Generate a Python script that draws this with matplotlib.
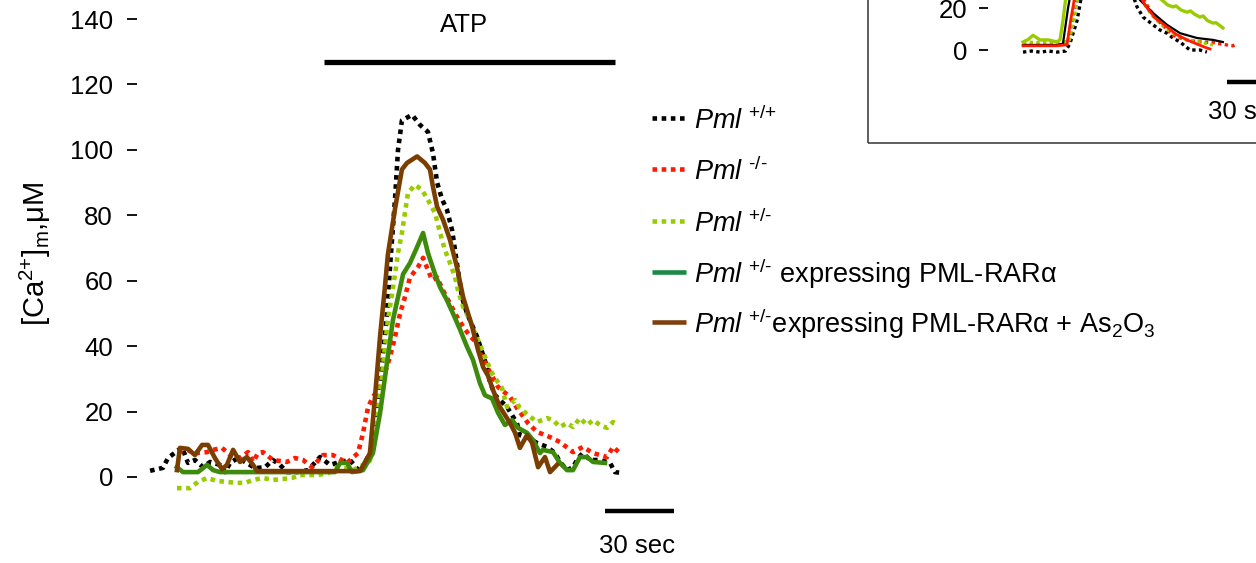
import matplotlib
matplotlib.use("Agg")
import matplotlib.pyplot as plt
from matplotlib.lines import Line2D
from matplotlib.patches import Rectangle

plt.rcParams['font.family'] = ['Liberation Sans', 'DejaVu Sans']
plt.rcParams['mathtext.fontset'] = 'custom'
plt.rcParams['mathtext.rm'] = 'Liberation Sans'
plt.rcParams['mathtext.it'] = 'Liberation Sans:italic'
plt.rcParams['mathtext.bf'] = 'Liberation Sans:bold'

# ---------------- main panel data (time in s, [Ca2+]m in uM) ----------------
wt_t = [0.9, 6.5, 8.7, 14.8, 17.4, 20.4, 23.9, 27.0, 31.3, 33.5, 35.7, 39.1, 43.0, 46.5, 50.9,
        54.3, 57.4, 60.4, 64.8, 69.6, 74.8, 79.1, 83.5, 87.8, 92.2, 96.5, 99.6, 101.7, 103.9, 105.2,
        107.4, 108.7, 110.4, 114.8, 118.3, 121.7, 123.9, 125.7, 127.8, 130.0, 132.2, 134.3, 136.5, 138.7, 143.0,
        147.4, 148.7, 150.9, 156.1, 160.4, 161.7, 164.8, 169.1, 173.5, 177.0, 179.1, 182.2, 184.8, 187.0, 189.1,
        192.2, 196.5, 200.9, 203.0, 206.5]
wt_v = [1.9, 2.8, 5.8, 9.1, 4.3, 5.2, 3.0, 4.6, 3.7, 1.5, 4.3, 5.8, 4.3, 2.7, 3.0,
        5.2, 3.7, 1.5, 1.5, 2.1, 6.1, 3.7, 4.6, 5.2, 1.5, 7.3, 19.6, 33.6, 50, 64,
        85, 100, 109, 110.7, 107.6, 105.5, 99, 90, 85, 81.6, 75.5, 65.4, 55, 50, 43,
        33.6, 29, 25, 21.4, 16.5, 12.8, 12.2, 10.4, 9.2, 7.3, 4.6, 2.1, 3.0, 5.8, 7.3,
        5.2, 5.2, 4.3, 1.5, 1.2]

ko_t = [13.0, 17.0, 20.4, 25.7, 28.3, 32.2, 35.7, 40.0, 43.5, 45.7, 47.8, 50.0, 54.3, 60.4, 63.9,
        67.4, 71.3, 76.1, 80.4, 86.5, 91.3, 93.5, 95.7, 97.8, 100.9, 103.0, 105.2, 107.4, 109.6, 111.7,
        113.9, 117.4, 119.6, 121.7, 123.5, 125.7, 128.3, 131.3, 134.3, 137.0, 140.0, 143.0, 144.3, 148.7, 152.2,
        157.4, 160.4, 165.2, 169.1, 174.8, 179.1, 184.8, 189.1, 193.5, 199.6, 202.2, 205.2]
ko_v = [7.6, 8.3, 7.3, 7.6, 8.3, 8.9, 6.7, 5.8, 7.6, 4.6, 7.3, 7.6, 5.2, 4.6, 5.8,
        5.2, 3.0, 6.7, 6.7, 4.3, 7.3, 13.5, 21.4, 24.5, 27.5, 31.8, 36.7, 42.8, 50, 55,
        61, 64.2, 67, 63.3, 60.2, 61, 57, 53, 49, 46, 43, 41, 37.9, 32, 27.5,
        24.5, 21.1, 16.5, 13.8, 12.2, 10.7, 7.6, 9.2, 7.3, 6.1, 9.2, 7.3]

het_t = [12.6, 18.3, 21.7, 25.7, 30.0, 34.3, 38.7, 42.2, 45.7, 50.0, 54.3, 58.7, 62.6, 66.1, 70.4,
         73.9, 78.3, 82.2, 85.7, 89.1, 93.5, 96.5, 97.8, 100.0, 101.7, 103.0, 104.3, 106.1, 107.4, 108.7,
         110.4, 111.7, 113.0, 116.1, 119.1, 121.7, 124.8, 127.0, 129.1, 131.3, 133.5, 134.8, 137.0, 140.0, 142.2,
         143.5, 147.4, 150.0, 153.9, 156.1, 159.6, 161.7, 165.2, 169.1, 173.5, 176.1, 179.1, 182.2, 184.8, 187.8,
         190.9, 193.5, 196.5, 199.6, 202.2, 204.3]
het_v = [-3.4, -3.4, -1.5, -0.3, -1.2, -1.5, -1.8, -1.8, -0.9, -0.3, -0.9, -0.6, -0.3, 0.6, 0.6,
         0.6, 1.2, 3.0, 2.7, 2.1, 3.7, 5.0, 11.3, 21.4, 30.6, 39.8, 48, 56, 62, 68.5,
         74.6, 80.7, 86.8, 89.3, 87.8, 84.7, 80.7, 74.6, 69.4, 65.4, 61, 57, 52, 48, 44,
         41.9, 35.2, 31.2, 27.2, 21.4, 23.5, 21.1, 19, 16.8, 18, 17.4, 15.3, 16.5, 15.3, 18,
         15.9, 17.4, 15.9, 15, 16.8, 15.9]

pr_t = [12.6, 15.2, 21.7, 25.7, 28.3, 31.3, 81.3, 83.5, 86.5, 88.7, 93.5, 97.8, 100.9, 103.9, 106.5,
        108.7, 110.9, 113.9, 117.0, 119.6, 121.7, 124.8, 127.0, 130.0, 132.6, 135.7, 138.7, 141.3, 144.3, 146.5,
        149.6, 152.2, 155.2, 158.3, 160.9, 164.8, 167.4, 170.4, 171.7, 176.1, 179.1, 182.2, 184.8, 187.8, 190.9,
        193.5, 198.7]
pr_v = [3.0, 1.5, 1.5, 3.7, 2.1, 1.5, 1.5, 4.3, 4.3, 1.5, 2.1, 7.3, 19.6, 34.9, 48,
        55, 62, 65.4, 70.3, 74.6, 68.5, 62, 58, 54, 50, 45, 39.8, 35.8, 28.7, 25,
        24, 19.6, 15.9, 17.4, 15, 13.5, 11.3, 7.3, 8.3, 7.6, 4.3, 2.1, 2.1, 6.1, 6.1,
        4.6, 4.3]

as_t = [12.6, 13.9, 17.4, 20.4, 23.5, 26.1, 29.1, 32.2, 34.3, 37.0, 40.0, 43.0, 45.7, 47.4, 92.2,
        96.5, 98.7, 100.9, 103.0, 104.3, 107.4, 110.4, 112.6, 117.0, 120.4, 122.6, 123.9, 125.7, 128.3, 131.3,
        134.3, 137.0, 140.9, 143.5, 145.7, 147.8, 150.0, 153.0, 157.4, 159.6, 161.7, 164.8, 167.0, 169.6, 172.6,
        174.8, 177.8]
as_v = [2.1, 8.9, 8.6, 6.7, 9.8, 9.8, 5.8, 2.4, 3.7, 8.3, 4.6, 6.1, 3.7, 1.8, 1.8,
        7.3, 24.5, 43, 58, 68, 82, 94, 96, 98, 96, 94, 88.7, 82.6, 78.6, 72.5,
        64.2, 55, 46, 38.8, 33.6, 31, 26.6, 21.4, 16.5, 13.5, 8.9, 12.8, 10.4, 3.0, 6.1,
        1.5, 3.7]

legend_labels = [r"$\mathit{Pml}$ $^{\text{+/+}}$",
                 r"$\mathit{Pml}$ $^{\text{-/-}}$",
                 r"$\mathit{Pml}$ $^{\text{+/-}}$",
                 r"$\mathit{Pml}$ $^{\text{+/-}}$ expressing PML-RARα",
                 r"$\mathit{Pml}$ $^{\text{+/-}}$expressing PML-RARα + As$_2$O$_3$"]
y_ticks = [0, 20, 40, 60, 80, 100, 120, 140]

# ---------------- inset data (partially visible) ----------------
in_wtd_t = [0, 5, 10, 15, 20, 25, 27.6, 29.4, 31.8, 34, 38, 45, 52, 58, 63, 67.1, 70.6, 76.5, 80.6, 84.7, 88.2, 92.4, 98.2, 104.1, 108.2]
in_wtd_v = [-1, -0.5, -1, -0.5, -1, -0.5, 3, 7.8, 14, 24, 38, 48, 50, 42, 30, 20.5, 15.7, 12, 9.5, 8, 5.7, 3.8, 0, 0, -1]
in_wts_t = [0, 10, 20, 23.5, 26.5, 30, 36, 45, 52, 60, 68.8, 76.5, 84.7, 92.4, 102.4, 111.8, 117.6]
in_wts_v = [2.4, 2.4, 2.4, 3, 20, 36, 48, 55, 52, 38, 23.8, 17.6, 12, 8, 5.7, 4.8, 3.8]
in_kod_t = [0, 10, 20, 26, 28.5, 31, 36, 45, 52, 60, 68, 74.7, 80.6, 88.2, 95, 102.4, 111.8, 120, 123.5, 124.7]
in_kod_v = [2.4, 2.4, 2.4, 3, 12, 22, 36, 47, 48, 40, 28, 19, 13, 7, 5, 4, 3.5, 2.4, 2, 2.4]
in_kos_t = [0, 10, 20, 25.9, 28, 31, 36, 45, 52, 60, 67, 73, 78, 84.7, 90, 96.5, 102.4, 108, 110]
in_kos_v = [2.0, 2.0, 2.0, 2.5, 14, 28, 42, 52, 50, 40, 28, 20, 15, 11, 7.5, 4.8, 2.8, 1, 0.5]
in_hetd_t = [0, 10, 20, 27, 29.4, 32, 37, 45, 52, 60, 67, 72.9, 76.5, 80.6, 84.7, 88.2, 96.5, 104.1, 111.8]
in_hetd_v = [3.8, 3.5, 3.8, 4, 12, 24, 38, 48, 49, 40, 27, 20, 16, 12.7, 10, 8, 4.8, 3.8, 2.4]
in_hets_t = [0, 3, 5.9, 10, 15, 20, 21.8, 23.5, 26, 30, 38, 48, 56, 64, 72, 78, 81.8, 85, 88.2, 90, 93, 96.5, 98.5,
             101, 104, 106, 108.5, 111.8, 113.5, 116, 117.6]
in_hets_v = [3.8, 5, 7, 4.8, 4.8, 3.8, 5, 14, 30, 50, 62, 60, 50, 38, 30, 26, 23.8, 21.5, 20.5, 21, 19, 18, 18.6,
             17, 15.7, 16.2, 14, 12.8, 13, 11.5, 10.5]
inset_ticks = [0, 20]

# ---------------- figure ----------------
W, H, DPI = 1256, 563, 100
fig = plt.figure(figsize=(W / DPI, H / DPI), dpi=DPI)


def px_box(left, top, right, bottom):
    return [left / W, 1 - bottom / H, (right - left) / W, (bottom - top) / H]


# main axes: y=0 at pixel 477, 3.2714 px/uM ; t=0 at pixel 148, 2.3 px/s
ypx = 3.2714
xpx = 2.3
ax = fig.add_axes(px_box(137, 10, 640, 500))
ax.set_xlim((137 - 148) / xpx, (640 - 148) / xpx)
ax.set_ylim((477 - 500) / ypx, (477 - 10) / ypx)
for s in ax.spines.values():
    s.set_visible(False)
ax.set_xticks([])
ax.set_yticks(y_ticks)
ax.tick_params(axis='y', length=7.2, width=1.3, pad=10, labelsize=18.5, color='black')

dot = (0, (1, 1))
lw = 3.3
colors = ['black', '#ff1a00', '#99cc00', '#3e8a0c', '#7a3e00']
ax.plot(wt_t, wt_v, color=colors[0], lw=lw, ls=dot, dash_capstyle='butt')
ax.plot(ko_t, ko_v, color=colors[1], lw=lw, ls=dot, dash_capstyle='butt')
ax.plot(het_t, het_v, color=colors[2], lw=lw, ls=dot, dash_capstyle='butt')
ax.plot(pr_t, pr_v, color=colors[3], lw=lw, solid_joinstyle='round')
ax.plot(as_t, as_v, color=colors[4], lw=lw, solid_joinstyle='round')

# ATP bar and label
atp_y = (477 - 62) / ypx
ax.plot([(324 - 148) / xpx, (615 - 148) / xpx], [atp_y, atp_y], color='black', lw=3.8,
        solid_capstyle='butt', clip_on=False)
ax.text((464 - 148) / xpx, (477 - 25) / ypx, "ATP", ha='center', va='center', fontsize=18.5)

# 30 sec scale bar
sb_y = (477 - 511) / ypx
ax.plot([(605 - 148) / xpx, (674 - 148) / xpx], [sb_y, sb_y], color='black', lw=3.2,
        solid_capstyle='butt', clip_on=False)
ax.text((637 - 148) / xpx, (477 - 546) / ypx, "30 sec", ha='center', va='center',
        fontsize=18.5, clip_on=False)

# y label
fig.text(35 / W, 1 - 254 / H, r"[Ca$^{\text{2+}}$]$_{\mathrm{m}}$,μM", rotation=90,
         ha='center', va='center', fontsize=21)

# legend (placed row by row)
leg_styles = [dict(color='black', ls=dot), dict(color='#ff1a00', ls=dot),
              dict(color='#99cc00', ls=dot), dict(color='#1a8a45', ls='-'),
              dict(color='#7f4010', ls='-')]
row_mid = [118, 169, 221, 272, 322]
for lab, st, ym in zip(legend_labels, leg_styles, row_mid):
    fig.add_artist(Line2D([652 / W, 686 / W], [1 - ym / H, 1 - ym / H], transform=fig.transFigure,
                          lw=lw, dash_capstyle='butt', solid_capstyle='butt', **st))
    fig.text(694 / W, 1 - (ym + 11) / H, lab, ha='left', va='baseline', fontsize=19.5)

# inset frame
fig.patches.append(Rectangle((868 / W, 1 - 143 / H), 1.0, 1.0, transform=fig.transFigure,
                             fill=False, edgecolor='#333333', lw=1.1, zorder=0))

# inset axes: y=0 at pixel 50, 2.1 px/unit ; t=0 at pixel 1023, 1.7 px/s
iy = 2.1
ix = 1.7
iax = fig.add_axes(px_box(988, 50 - 60 * iy, 1320, 50 + 5 * iy))
iax.set_xlim((988 - 1023) / ix, (1320 - 1023) / ix)
iax.set_ylim(-5, 60)
for s in iax.spines.values():
    s.set_visible(False)
iax.set_xticks([])
iax.set_yticks(inset_ticks)
iax.tick_params(axis='y', length=6.5, width=1.3, pad=8, labelsize=18.5)
ilw = 2.4
iax.plot(in_wtd_t, in_wtd_v, color='black', lw=ilw, ls=dot)
iax.plot(in_kod_t, in_kod_v, color='#ff1a00', lw=ilw, ls=dot)
iax.plot(in_hetd_t, in_hetd_v, color='#99cc00', lw=ilw, ls=dot)
iax.plot(in_wts_t, in_wts_v, color='black', lw=1.6)
iax.plot(in_kos_t, in_kos_v, color='#ff1a00', lw=2.0)
iax.plot(in_hets_t, in_hets_v, color='#99cc00', lw=2.4)
isb = (50 - 82) / iy
iax.plot([(1227 - 1023) / ix, (1290 - 1023) / ix], [isb, isb], color='black', lw=3.2,
         solid_capstyle='butt', clip_on=False)
iax.text((1246 - 1023) / ix, (50 - 112) / iy, "30 sec", ha='center', va='center',
         fontsize=18.5, clip_on=False)

fig.savefig("out.png", dpi=DPI)
